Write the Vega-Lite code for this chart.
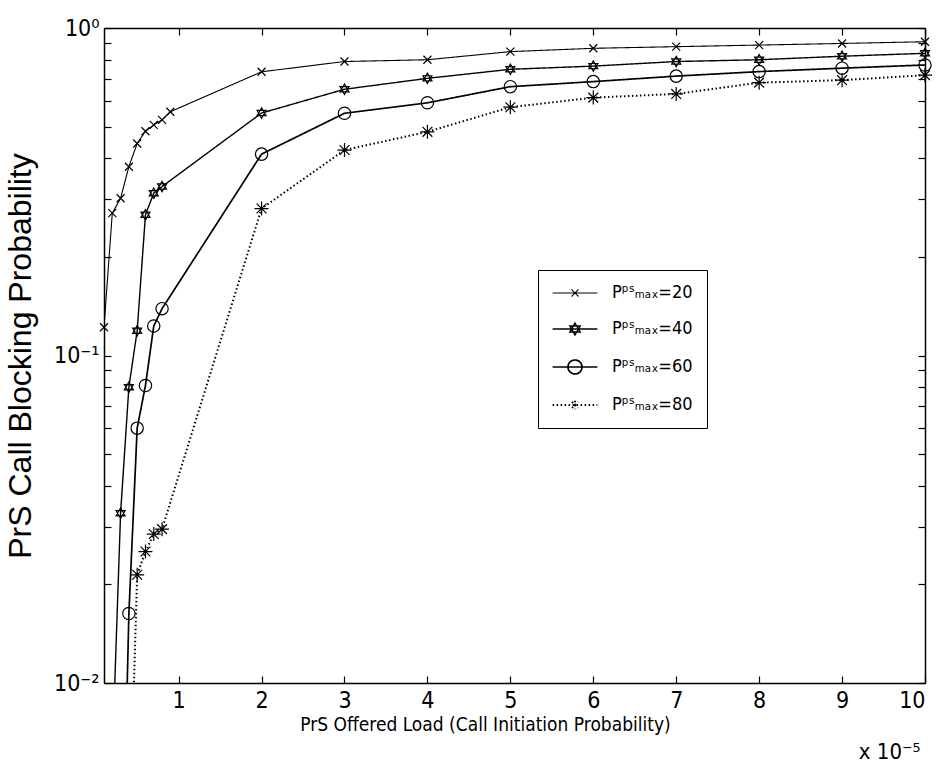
{
  "$schema": "https://vega.github.io/schema/vega-lite/v6.json",
  "width": 821,
  "height": 655,
  "autosize": {"type": "none"},
  "padding": {"left": 104, "top": 28, "right": 13, "bottom": 81},
  "background": "white",
  "config": {
    "view": {"stroke": null},
    "axis": {
      "domainColor": "black", "domainWidth": 1.5, "tickColor": "black", "tickWidth": 1.2,
      "labelColor": "black", "titleColor": "black", "grid": false,
      "labelFont": "DejaVu Sans Condensed, sans-serif", "labelFontSize": 23,
      "titleFontWeight": "normal"
    },
    "legend": {
      "orient": "none", "legendX": 434, "legendY": 242, "title": null,
      "labelFont": "DejaVu Sans Condensed, sans-serif", "labelFontSize": 18, "labelColor": "black",
      "symbolSize": 196, "symbolStrokeColor": "black", "symbolFillColor": "transparent",
      "strokeColor": "black", "fillColor": "white", "padding": 14,
      "rowPadding": 18, "labelOffset": 28, "symbolOffset": 14
    }
  },
  "title": {"text": "x 10⁻⁵", "orient": "bottom", "anchor": "end", "font": "DejaVu Sans Condensed, sans-serif", "fontSize": 22, "fontWeight": "normal", "color": "black", "offset": 8, "dx": -14},
  "data": {"values": [
    {"s": "20", "lab": "Pᵖˢₘₐₓ=20", "x": 0.1, "p": 0.122}, {"s": "20", "lab": "Pᵖˢₘₐₓ=20", "x": 0.2, "p": 0.272}, {"s": "20", "lab": "Pᵖˢₘₐₓ=20", "x": 0.3, "p": 0.302},
    {"s": "20", "lab": "Pᵖˢₘₐₓ=20", "x": 0.4, "p": 0.377}, {"s": "20", "lab": "Pᵖˢₘₐₓ=20", "x": 0.5, "p": 0.444}, {"s": "20", "lab": "Pᵖˢₘₐₓ=20", "x": 0.6, "p": 0.484},
    {"s": "20", "lab": "Pᵖˢₘₐₓ=20", "x": 0.7, "p": 0.506}, {"s": "20", "lab": "Pᵖˢₘₐₓ=20", "x": 0.8, "p": 0.524}, {"s": "20", "lab": "Pᵖˢₘₐₓ=20", "x": 0.9, "p": 0.555},
    {"s": "20", "lab": "Pᵖˢₘₐₓ=20", "x": 2, "p": 0.735}, {"s": "20", "lab": "Pᵖˢₘₐₓ=20", "x": 3, "p": 0.79}, {"s": "20", "lab": "Pᵖˢₘₐₓ=20", "x": 4, "p": 0.8},
    {"s": "20", "lab": "Pᵖˢₘₐₓ=20", "x": 5, "p": 0.847}, {"s": "20", "lab": "Pᵖˢₘₐₓ=20", "x": 6, "p": 0.867}, {"s": "20", "lab": "Pᵖˢₘₐₓ=20", "x": 7, "p": 0.877},
    {"s": "20", "lab": "Pᵖˢₘₐₓ=20", "x": 8, "p": 0.887}, {"s": "20", "lab": "Pᵖˢₘₐₓ=20", "x": 9, "p": 0.897}, {"s": "20", "lab": "Pᵖˢₘₐₓ=20", "x": 10, "p": 0.908},
    {"s": "40", "lab": "Pᵖˢₘₐₓ=40", "x": 0.2, "p": 0.006}, {"s": "40", "lab": "Pᵖˢₘₐₓ=40", "x": 0.3, "p": 0.033}, {"s": "40", "lab": "Pᵖˢₘₐₓ=40", "x": 0.4, "p": 0.08},
    {"s": "40", "lab": "Pᵖˢₘₐₓ=40", "x": 0.5, "p": 0.119}, {"s": "40", "lab": "Pᵖˢₘₐₓ=40", "x": 0.6, "p": 0.269}, {"s": "40", "lab": "Pᵖˢₘₐₓ=40", "x": 0.7, "p": 0.313},
    {"s": "40", "lab": "Pᵖˢₘₐₓ=40", "x": 0.8, "p": 0.328}, {"s": "40", "lab": "Pᵖˢₘₐₓ=40", "x": 2, "p": 0.55}, {"s": "40", "lab": "Pᵖˢₘₐₓ=40", "x": 3, "p": 0.65},
    {"s": "40", "lab": "Pᵖˢₘₐₓ=40", "x": 4, "p": 0.702}, {"s": "40", "lab": "Pᵖˢₘₐₓ=40", "x": 5, "p": 0.748}, {"s": "40", "lab": "Pᵖˢₘₐₓ=40", "x": 6, "p": 0.765},
    {"s": "40", "lab": "Pᵖˢₘₐₓ=40", "x": 7, "p": 0.79}, {"s": "40", "lab": "Pᵖˢₘₐₓ=40", "x": 8, "p": 0.8}, {"s": "40", "lab": "Pᵖˢₘₐₓ=40", "x": 9, "p": 0.82},
    {"s": "40", "lab": "Pᵖˢₘₐₓ=40", "x": 10, "p": 0.837},
    {"s": "60", "lab": "Pᵖˢₘₐₓ=60", "x": 0.3, "p": 0.0014}, {"s": "60", "lab": "Pᵖˢₘₐₓ=60", "x": 0.4, "p": 0.0163}, {"s": "60", "lab": "Pᵖˢₘₐₓ=60", "x": 0.5, "p": 0.06},
    {"s": "60", "lab": "Pᵖˢₘₐₓ=60", "x": 0.6, "p": 0.081}, {"s": "60", "lab": "Pᵖˢₘₐₓ=60", "x": 0.7, "p": 0.123}, {"s": "60", "lab": "Pᵖˢₘₐₓ=60", "x": 0.8, "p": 0.139},
    {"s": "60", "lab": "Pᵖˢₘₐₓ=60", "x": 2, "p": 0.412}, {"s": "60", "lab": "Pᵖˢₘₐₓ=60", "x": 3, "p": 0.549}, {"s": "60", "lab": "Pᵖˢₘₐₓ=60", "x": 4, "p": 0.591},
    {"s": "60", "lab": "Pᵖˢₘₐₓ=60", "x": 5, "p": 0.662}, {"s": "60", "lab": "Pᵖˢₘₐₓ=60", "x": 6, "p": 0.686}, {"s": "60", "lab": "Pᵖˢₘₐₓ=60", "x": 7, "p": 0.713},
    {"s": "60", "lab": "Pᵖˢₘₐₓ=60", "x": 8, "p": 0.736}, {"s": "60", "lab": "Pᵖˢₘₐₓ=60", "x": 9, "p": 0.754}, {"s": "60", "lab": "Pᵖˢₘₐₓ=60", "x": 10, "p": 0.771},
    {"s": "80", "lab": "Pᵖˢₘₐₓ=80", "x": 0.4, "p": 0.003}, {"s": "80", "lab": "Pᵖˢₘₐₓ=80", "x": 0.5, "p": 0.0214}, {"s": "80", "lab": "Pᵖˢₘₐₓ=80", "x": 0.6, "p": 0.0252},
    {"s": "80", "lab": "Pᵖˢₘₐₓ=80", "x": 0.7, "p": 0.0285}, {"s": "80", "lab": "Pᵖˢₘₐₓ=80", "x": 0.8, "p": 0.0295}, {"s": "80", "lab": "Pᵖˢₘₐₓ=80", "x": 2, "p": 0.281},
    {"s": "80", "lab": "Pᵖˢₘₐₓ=80", "x": 3, "p": 0.424}, {"s": "80", "lab": "Pᵖˢₘₐₓ=80", "x": 4, "p": 0.482}, {"s": "80", "lab": "Pᵖˢₘₐₓ=80", "x": 5, "p": 0.573},
    {"s": "80", "lab": "Pᵖˢₘₐₓ=80", "x": 6, "p": 0.613}, {"s": "80", "lab": "Pᵖˢₘₐₓ=80", "x": 7, "p": 0.629}, {"s": "80", "lab": "Pᵖˢₘₐₓ=80", "x": 8, "p": 0.681},
    {"s": "80", "lab": "Pᵖˢₘₐₓ=80", "x": 9, "p": 0.693}, {"s": "80", "lab": "Pᵖˢₘₐₓ=80", "x": 10, "p": 0.718}
  ]},
  "layer": [
    {
      "mark": {"type": "line", "clip": true, "color": "black"},
      "encoding": {
        "x": {"field": "x", "type": "quantitative",
          "scale": {"domain": [0.1, 10], "nice": false, "zero": false},
          "axis": {"orient": "bottom", "values": [1, 2, 3, 4, 5, 6, 7, 8, 9, 10], "tickSize": -7, "labelPadding": 13,
            "title": "PrS Offered Load (Call Initiation Probability)",
            "titleFont": "DejaVu Sans Condensed, sans-serif", "titleFontSize": 19, "titlePadding": 3, "titleX": 381}},
        "y": {"field": "p", "type": "quantitative",
          "scale": {"type": "log", "domain": [0.01, 1], "nice": false},
          "axis": {"orient": "left",
            "values": [0.01, 0.02, 0.03, 0.04, 0.05, 0.06, 0.07, 0.08, 0.09, 0.1, 0.2, 0.3, 0.4, 0.5, 0.6, 0.7, 0.8, 0.9, 1],
            "labelExpr": "datum.value == 1 ? '10⁰' : datum.value == 0.1 ? '10⁻¹' : datum.value == 0.01 ? '10⁻²' : ''",
            "labelOverlap": false, "tickSize": -7, "labelPadding": 12,
            "title": "PrS Call Blocking Probability", "titleFont": "Liberation Sans, sans-serif", "titleFontSize": 32, "titlePadding": 16}},
        "detail": {"field": "s"},
        "strokeDash": {"field": "s", "type": "nominal",
          "scale": {"domain": ["20", "40", "60", "80"], "range": [[1, 0], [1, 0], [1, 0], [1.5, 2.5]]}, "legend": null},
        "strokeWidth": {"field": "s", "type": "ordinal",
          "scale": {"domain": ["20", "40", "60", "80"], "range": [1.1, 2, 1.2, 1]}, "legend": null}
      }
    },
    {
      "transform": [{"filter": "datum.p >= 0.01"}],
      "mark": {"type": "point", "filled": false, "clip": false, "color": "black", "opacity": 1, "strokeWidth": 1.2},
      "encoding": {
        "x": {"field": "x", "type": "quantitative",
          "axis": {"orient": "top", "values": [1, 2, 3, 4, 5, 6, 7, 8, 9, 10], "labels": false, "tickSize": -7, "title": null}},
        "y": {"field": "p", "type": "quantitative",
          "axis": {"orient": "right",
            "values": [0.01, 0.02, 0.03, 0.04, 0.05, 0.06, 0.07, 0.08, 0.09, 0.1, 0.2, 0.3, 0.4, 0.5, 0.6, 0.7, 0.8, 0.9, 1],
            "labels": false, "tickSize": -7, "title": null}},
        "shape": {"field": "s", "type": "nominal",
          "scale": {"domain": ["20", "40", "60", "80"],
            "range": [
              "M-1,-1L1,1M-1,1L1,-1",
              "M0,-1L0.866,0.5L-0.866,0.5ZM0,1L0.866,-0.5L-0.866,-0.5Z",
              "M1,0A1,1,0,1,1,-1,0A1,1,0,1,1,1,0Z",
              "M0,-1V1M-1,0H1M-0.7,-0.7L0.7,0.7M-0.7,0.7L0.7,-0.7"
            ]},
          "legend": null},
        "size": {"field": "s", "type": "ordinal",
          "scale": {"domain": ["20", "40", "60", "80"], "range": [64, 196, 256, 110]}, "legend": null}
      }
    },
    {
      "transform": [{"filter": "datum.x < 0"}],
      "mark": {"type": "point", "filled": false, "clip": true, "color": "black", "opacity": 1},
      "encoding": {
        "x": {"field": "x", "type": "quantitative", "axis": null},
        "y": {"field": "p", "type": "quantitative", "axis": null},
        "shape": {"field": "lab", "type": "nominal",
          "scale": {"domain": ["Pᵖˢₘₐₓ=20", "Pᵖˢₘₐₓ=40", "Pᵖˢₘₐₓ=60", "Pᵖˢₘₐₓ=80"],
            "range": [
              "M-3.2,0H3.2M-0.5,-0.5L0.5,0.5M-0.5,0.5L0.5,-0.5",
              "M-3.2,0H3.2M0,-0.85L0.74,0.43L-0.74,0.43ZM0,0.85L0.74,-0.43L-0.74,-0.43Z",
              "M-3.2,0H3.2M1,0A1,1,0,1,1,-1,0A1,1,0,1,1,1,0Z",
              "M-3.2,0H3.2M0,-0.6V0.6M-0.42,-0.42L0.42,0.42M-0.42,0.42L0.42,-0.42"
            ]},
          "legend": {}},
        "strokeDash": {"field": "lab", "type": "nominal",
          "scale": {"domain": ["Pᵖˢₘₐₓ=20", "Pᵖˢₘₐₓ=40", "Pᵖˢₘₐₓ=60", "Pᵖˢₘₐₓ=80"], "range": [[1, 0], [1, 0], [1, 0], [1.5, 2.5]]},
          "legend": {}},
        "strokeWidth": {"field": "lab", "type": "ordinal",
          "scale": {"domain": ["Pᵖˢₘₐₓ=20", "Pᵖˢₘₐₓ=40", "Pᵖˢₘₐₓ=60", "Pᵖˢₘₐₓ=80"], "range": [1.1, 2, 1.2, 1]},
          "legend": {}}
      }
    }
  ],
  "resolve": {
    "axis": {"x": "independent", "y": "independent"},
    "scale": {"shape": "independent", "strokeDash": "independent", "strokeWidth": "independent", "size": "independent"}
  }
}
